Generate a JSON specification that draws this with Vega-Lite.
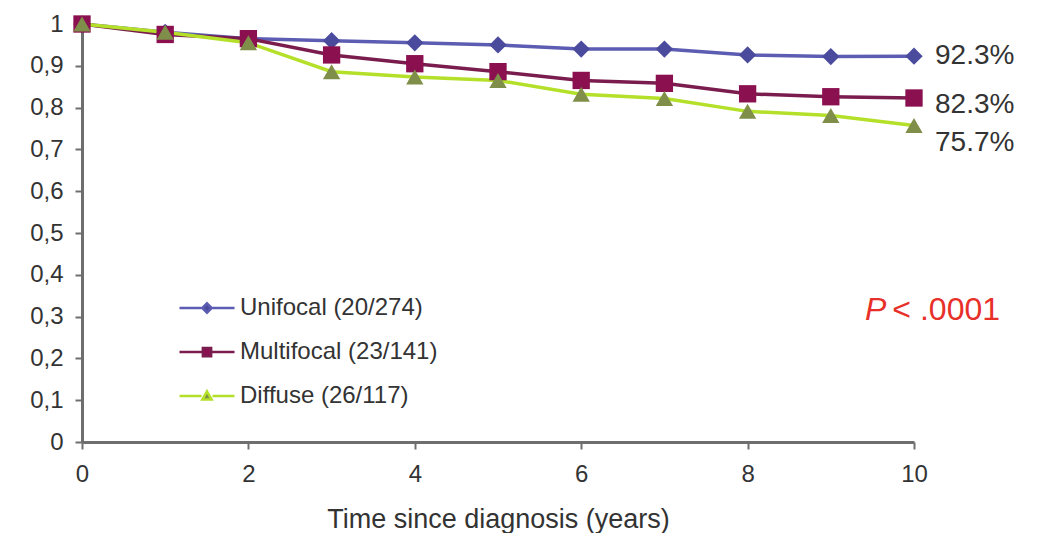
{
  "$schema": "https://vega.github.io/schema/vega-lite/v6.json",
  "width": 832,
  "height": 418,
  "autosize": {"type": "none"},
  "padding": {"left": 82, "top": 24, "right": 129, "bottom": 91},
  "background": "white",
  "config": {
    "view": {"stroke": null},
    "locale": {"number": {"decimal": ",", "thousands": ".", "grouping": [3], "currency": ["", " €"]}},
    "font": "Liberation Sans",
    "axis": {
      "grid": false,
      "labelFlush": false,
      "domainColor": "#6e6e6e",
      "domainWidth": 3,
      "tickColor": "#6e6e6e",
      "tickWidth": 2,
      "tickSize": 7,
      "labelFont": "Liberation Sans",
      "labelFontSize": 24,
      "labelColor": "#333333",
      "titleFont": "Liberation Sans",
      "titleFontSize": 27,
      "titleColor": "#333333",
      "titleFontWeight": "normal"
    }
  },
  "datasets": {
    "surv": [
      {"series": "Unifocal (20/274)", "year": 0, "value": 1.0},
      {"series": "Unifocal (20/274)", "year": 1, "value": 0.98},
      {"series": "Unifocal (20/274)", "year": 2, "value": 0.965},
      {"series": "Unifocal (20/274)", "year": 3, "value": 0.96},
      {"series": "Unifocal (20/274)", "year": 4, "value": 0.955},
      {"series": "Unifocal (20/274)", "year": 5, "value": 0.95},
      {"series": "Unifocal (20/274)", "year": 6, "value": 0.94},
      {"series": "Unifocal (20/274)", "year": 7, "value": 0.94},
      {"series": "Unifocal (20/274)", "year": 8, "value": 0.926},
      {"series": "Unifocal (20/274)", "year": 9, "value": 0.922},
      {"series": "Unifocal (20/274)", "year": 10, "value": 0.923},
      {"series": "Multifocal (23/141)", "year": 0, "value": 1.0},
      {"series": "Multifocal (23/141)", "year": 1, "value": 0.975},
      {"series": "Multifocal (23/141)", "year": 2, "value": 0.965},
      {"series": "Multifocal (23/141)", "year": 3, "value": 0.926},
      {"series": "Multifocal (23/141)", "year": 4, "value": 0.905},
      {"series": "Multifocal (23/141)", "year": 5, "value": 0.886},
      {"series": "Multifocal (23/141)", "year": 6, "value": 0.865},
      {"series": "Multifocal (23/141)", "year": 7, "value": 0.858},
      {"series": "Multifocal (23/141)", "year": 8, "value": 0.833},
      {"series": "Multifocal (23/141)", "year": 9, "value": 0.826},
      {"series": "Multifocal (23/141)", "year": 10, "value": 0.823},
      {"series": "Diffuse (26/117)", "year": 0, "value": 1.0},
      {"series": "Diffuse (26/117)", "year": 1, "value": 0.98},
      {"series": "Diffuse (26/117)", "year": 2, "value": 0.955},
      {"series": "Diffuse (26/117)", "year": 3, "value": 0.886},
      {"series": "Diffuse (26/117)", "year": 4, "value": 0.873},
      {"series": "Diffuse (26/117)", "year": 5, "value": 0.865},
      {"series": "Diffuse (26/117)", "year": 6, "value": 0.832},
      {"series": "Diffuse (26/117)", "year": 7, "value": 0.822},
      {"series": "Diffuse (26/117)", "year": 8, "value": 0.791},
      {"series": "Diffuse (26/117)", "year": 9, "value": 0.781},
      {"series": "Diffuse (26/117)", "year": 10, "value": 0.757}
    ],
    "endlabels": [
      {"series": "Unifocal (20/274)", "year": 10, "value": 0.923, "label": "92.3%"},
      {"series": "Multifocal (23/141)", "year": 10, "value": 0.823, "label": "82.3%"},
      {"series": "Diffuse (26/117)", "year": 10, "value": 0.757, "label": "75.7%"}
    ]
  },
  "layer": [
    {
      "data": {"name": "surv"},
      "mark": {"type": "line", "strokeWidth": 3.5},
      "encoding": {
        "x": {
          "field": "year", "type": "quantitative",
          "scale": {"domain": [0, 10], "nice": false},
          "axis": {"values": [0, 2, 4, 6, 8, 10], "format": "d", "title": "Time since diagnosis (years)", "labelPadding": 13, "titlePadding": 20}
        },
        "y": {
          "field": "value", "type": "quantitative",
          "scale": {"domain": [0, 1], "nice": false},
          "axis": {"values": [0, 0.1, 0.2, 0.3, 0.4, 0.5, 0.6, 0.7, 0.8, 0.9, 1], "format": ".1~f", "title": null, "labelPadding": 12}
        },
        "color": {
          "field": "series", "type": "nominal",
          "scale": {"domain": ["Unifocal (20/274)", "Multifocal (23/141)", "Diffuse (26/117)"], "range": ["#5c5cb2", "#7a1d4e", "#b4e02a"]},
          "legend": {
            "orient": "none", "legendX": 96, "legendY": 255, "title": null,
            "labelFontSize": 24, "labelFont": "Liberation Sans", "labelColor": "#333333", "labelLimit": 500,
            "symbolSize": 3025, "symbolStrokeWidth": 2.5, "rowPadding": 3, "labelOffset": 4,
            "encode": {
              "symbols": {
                "update": {
                  "shape": {"signal": "datum.value === 'Unifocal (20/274)' ? 'M-1,0H-0.2M0.2,0H1M0,-0.17L0.17,0L0,0.17L-0.17,0Z' : datum.value === 'Multifocal (23/141)' ? 'M-1,0H-0.16M0.16,0H1M-0.15,-0.15H0.15V0.15H-0.15Z' : 'M-1,0H-0.2M0.2,0H1M0,-0.17L0.17,0.13H-0.17Z'"},
                  "fill": {"signal": "datum.value === 'Unifocal (20/274)' ? '#4b4b9e' : datum.value === 'Multifocal (23/141)' ? '#8a1050' : '#7f8f4a'"}
                }
              }
            }
          }
        }
      }
    },
    {
      "data": {"name": "surv"},
      "mark": {"type": "point", "filled": true, "opacity": 1, "size": 300},
      "encoding": {
        "x": {"field": "year", "type": "quantitative"},
        "y": {"field": "value", "type": "quantitative"},
        "fill": {
          "field": "series", "type": "nominal",
          "scale": {"domain": ["Unifocal (20/274)", "Multifocal (23/141)", "Diffuse (26/117)"], "range": ["#4b4b9e", "#8a1050", "#7f8f4a"]},
          "legend": null
        },
        "shape": {
          "field": "series", "type": "nominal",
          "scale": {"domain": ["Unifocal (20/274)", "Multifocal (23/141)", "Diffuse (26/117)"], "range": ["diamond", "square", "triangle-up"]},
          "legend": null
        }
      }
    },
    {
      "data": {"name": "endlabels"},
      "transform": [{"filter": "datum.series === 'Unifocal (20/274)'"}],
      "mark": {"type": "text", "align": "left", "dx": 21, "dy": 0, "fontSize": 28, "color": "#333333"},
      "encoding": {"x": {"field": "year", "type": "quantitative"}, "y": {"field": "value", "type": "quantitative"}, "text": {"field": "label", "type": "nominal"}}
    },
    {
      "data": {"name": "endlabels"},
      "transform": [{"filter": "datum.series === 'Multifocal (23/141)'"}],
      "mark": {"type": "text", "align": "left", "dx": 21, "dy": 7, "fontSize": 28, "color": "#333333"},
      "encoding": {"x": {"field": "year", "type": "quantitative"}, "y": {"field": "value", "type": "quantitative"}, "text": {"field": "label", "type": "nominal"}}
    },
    {
      "data": {"name": "endlabels"},
      "transform": [{"filter": "datum.series === 'Diffuse (26/117)'"}],
      "mark": {"type": "text", "align": "left", "dx": 21, "dy": 17, "fontSize": 28, "color": "#333333"},
      "encoding": {"x": {"field": "year", "type": "quantitative"}, "y": {"field": "value", "type": "quantitative"}, "text": {"field": "label", "type": "nominal"}}
    },
    {
      "data": {"values": [{"t": "P"}]},
      "mark": {"type": "text", "align": "left", "baseline": "middle", "fontSize": 32, "fontStyle": "italic", "color": "#e8302a"},
      "encoding": {"text": {"field": "t", "type": "nominal"}, "x": {"datum": 9.41, "type": "quantitative"}, "y": {"datum": 0.315, "type": "quantitative"}}
    },
    {
      "data": {"values": [{"t": "< .0001"}]},
      "mark": {"type": "text", "align": "left", "baseline": "middle", "fontSize": 32, "color": "#e8302a"},
      "encoding": {"text": {"field": "t", "type": "nominal"}, "x": {"datum": 9.74, "type": "quantitative"}, "y": {"datum": 0.315, "type": "quantitative"}}
    }
  ],
  "resolve": {"scale": {"color": "independent", "fill": "independent", "shape": "independent"}}
}
